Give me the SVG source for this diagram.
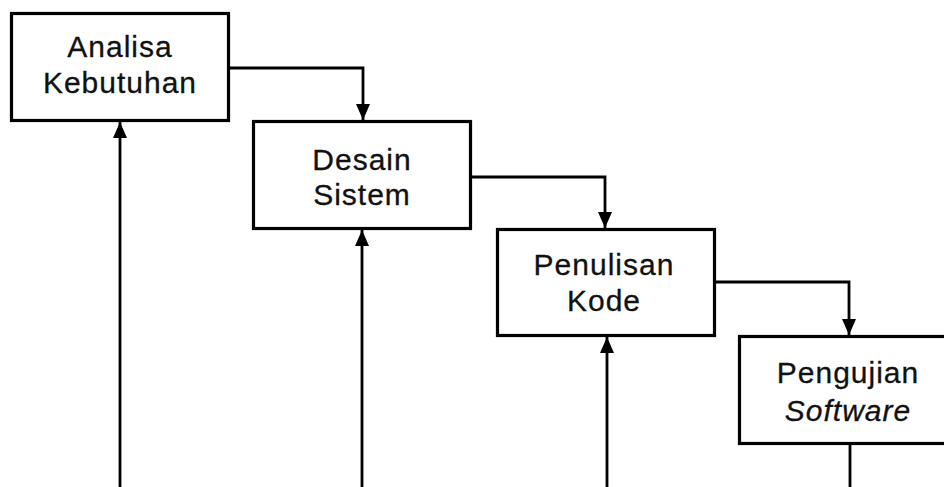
<svg xmlns="http://www.w3.org/2000/svg" width="944" height="487" viewBox="0 0 944 487">
  <defs>
    <style>
      .box { fill: #ffffff; stroke: #000000; stroke-width: 3.2; }
      .line { fill: none; stroke: #000000; stroke-width: 2.8; }
      .label { font-family: "Liberation Sans", Arial, sans-serif; font-size: 30px; fill: #111111; stroke: #111111; stroke-width: 0.3; text-anchor: middle; letter-spacing: 1px; }
      .it { font-style: italic; }
    </style>
    <marker id="arrow" viewBox="0 0 16 14" refX="16" refY="7" markerWidth="16" markerHeight="14" markerUnits="userSpaceOnUse" orient="auto">
      <path d="M0,0 L16,7 L0,14 Z" fill="#000000"/>
    </marker>
  </defs>
  <rect width="944" height="487" fill="#ffffff"/>

  <g id="connectors">
    <!-- forward flow between stages -->
    <path class="line" d="M230,68 H363 V120" marker-end="url(#arrow)"/>
    <path class="line" d="M472,177 H605 V228" marker-end="url(#arrow)"/>
    <path class="line" d="M716,282 H849 V335" marker-end="url(#arrow)"/>
    <!-- feedback lines rising from below -->
    <path class="line" d="M120,487 V122" marker-end="url(#arrow)"/>
    <path class="line" d="M362,487 V230" marker-end="url(#arrow)"/>
    <path class="line" d="M607,487 V337" marker-end="url(#arrow)"/>
    <path class="line" d="M850,445 V487"/>
  </g>

  <g id="analisa-kebutuhan">
    <rect class="box" x="11.5" y="13.5" width="217" height="107"/>
    <text class="label" x="120" y="57">Analisa</text>
    <text class="label" x="120" y="93">Kebutuhan</text>
  </g>

  <g id="desain-sistem">
    <rect class="box" x="253.5" y="121.5" width="217" height="107"/>
    <text class="label" x="362" y="170">Desain</text>
    <text class="label" x="362" y="205">Sistem</text>
  </g>

  <g id="penulisan-kode">
    <rect class="box" x="497.5" y="229.5" width="217" height="106"/>
    <text class="label" x="604" y="275">Penulisan</text>
    <text class="label" x="604" y="311">Kode</text>
  </g>

  <g id="pengujian-software">
    <rect class="box" x="739.5" y="336.5" width="220" height="107"/>
    <text class="label" x="848" y="383">Pengujian</text>
    <text class="label it" x="848" y="421">Software</text>
  </g>
</svg>
